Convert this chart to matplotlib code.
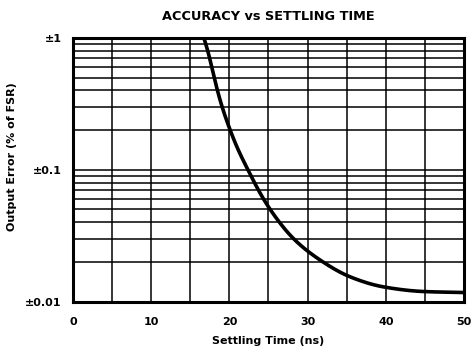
import numpy as np
import matplotlib
matplotlib.use("Agg")
import matplotlib.pyplot as plt
from matplotlib.ticker import FixedLocator, NullFormatter

plt.rcParams['font.family'] = ['DejaVu Sans']

# Data
settling_time = [16.5, 16.88, 18.38, 19.02, 20.08, 21.1, 22.38, 23.27, 24.34, 25.19, 28.17, 31.4, 35.4, 39.7, 44.8, 50.0]
output_error = [1.1, 1.0, 0.403, 0.301, 0.200, 0.141, 0.100, 0.078, 0.060, 0.050, 0.030, 0.0210, 0.0154, 0.0129, 0.0119, 0.0117]
xticks = [0, 10, 20, 30, 40, 50]
yticks = [0.01, 0.1, 1]
ytick_labels = ['±0.01', '±0.1', '±1']

fig = plt.figure(figsize=(4.73, 3.51), dpi=100)
ax = fig.add_axes([0.1543, 0.141, 0.981 - 0.1543, 0.8917 - 0.141])

xs = np.array(settling_time)
ys = np.log10(np.array(output_error))


def pchip(x, y, xn):
    h = np.diff(x); d = np.diff(y) / h
    m = np.zeros_like(y)
    for k in range(1, len(y) - 1):
        if d[k-1] * d[k] > 0:
            w1 = 2*h[k] + h[k-1]; w2 = h[k] + 2*h[k-1]
            m[k] = (w1 + w2) / (w1 / d[k-1] + w2 / d[k])
    m[0] = d[0]; m[-1] = d[-1]
    idx = np.clip(np.searchsorted(x, xn) - 1, 0, len(x) - 2)
    t = (xn - x[idx]) / h[idx]
    h00 = 2*t**3 - 3*t**2 + 1; h10 = t**3 - 2*t**2 + t
    h01 = -2*t**3 + 3*t**2; h11 = t**3 - t**2
    return h00*y[idx] + h10*h[idx]*m[idx] + h01*y[idx+1] + h11*h[idx]*m[idx+1]


xf = np.linspace(xs.min(), xs.max(), 1000)
yl = pchip(xs, ys, xf)
# light smoothing of the rendered path to remove reading jitter
dx = xf[1] - xf[0]
sig = 0.6 / dx
kx = np.arange(-int(4*sig), int(4*sig) + 1)
kern = np.exp(-0.5 * (kx / sig) ** 2); kern /= kern.sum()
pad = len(kx) // 2
ypad = np.concatenate([2*yl[0] - yl[pad:0:-1], yl, 2*yl[-1] - yl[-2:-pad-2:-1]])
ysm = np.convolve(ypad, kern, mode='valid')
yf = 10 ** ysm

ax.plot(xf, yf, color='black', lw=2.6, solid_capstyle='butt', zorder=3, clip_on=True)

ax.set_yscale('log')
ax.set_xlim(0, 50)
ax.set_ylim(0.01, 1)
ax.set_xticks(xticks)
ax.set_xticklabels([str(v) for v in xticks])
ax.xaxis.set_minor_locator(FixedLocator(np.arange(0, 51, 5)))
ax.set_yticks(yticks)
ax.set_yticklabels(ytick_labels)
minor_y = [k * 10.0**e for e in (-2, -1) for k in range(2, 10)]
ax.yaxis.set_minor_locator(FixedLocator(minor_y))
ax.yaxis.set_minor_formatter(NullFormatter())

ax.grid(True, which='both', color='black', lw=1.1)
ax.tick_params(which='both', length=0, labelsize=8)
ax.tick_params(axis='x', pad=11)
ax.tick_params(axis='y', pad=8)
for lab in ax.get_xticklabels() + ax.get_yticklabels():
    lab.set_fontweight('bold')
for sp in ax.spines.values():
    sp.set_linewidth(2.2)

ax.set_xlabel('Settling Time (ns)', fontsize=8, fontweight='bold')
ax.xaxis.set_label_coords(0.5, (301.5 - 341) / 263.5)
ax.xaxis.label.set_va('center')
ax.set_ylabel('Output Error (% of FSR)', fontsize=8, fontweight='bold')
ax.yaxis.set_label_coords((12 - 73) / 391, (301.5 - 157) / 263.5)
ax.yaxis.label.set_va('center')
ax.set_title('ACCURACY vs SETTLING TIME', fontsize=9.3, fontweight='bold', pad=13)

fig.savefig('out.png', dpi=100)
